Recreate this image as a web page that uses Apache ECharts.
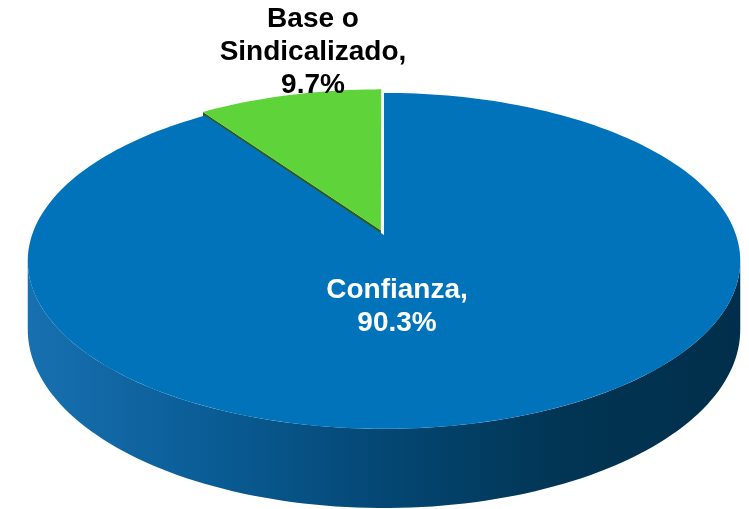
<!DOCTYPE html>
<html>
<head>
<meta charset="utf-8">
<script src="https://cdn.jsdelivr.net/npm/echarts@6/dist/echarts.min.js"></script>
<style>
html, body { margin: 0; padding: 0; background: #fff; }
#main { width: 749px; height: 509px; }
</style>
</head>
<body>
<div id="main"></div>
<script>
var categories = ['Confianza', 'Base o Sindicalizado'];
var values = [90.3, 9.7];
var labels = ['Confianza,\n90.3%', 'Base o\nSindicalizado,\n9.7%'];
var colors = ['#0073bb', '#5fd43a'];
var cutColors = ['#003a60', '#2f5a16'];

// pie geometry (tilted disc, simple perspective)
var CX = 384, CY = 235, RX = 352, RY = 164, A = 0.154, H = 67;
var EXPLODE = [0, 0.03];
var D2R = Math.PI / 180;
var DELTA = Math.asin(A) / D2R;

var total = values.reduce(function (s, v) { return s + v; }, 0);
var ranges = [];
(function () {
    var start = 90;
    for (var i = 0; i < values.length; i++) {
        var span = values[i] / total * 360;
        ranges.push([start - span, start]);
        start -= span;
    }
})();

function proj(u, v, dz) {
    var w = 1 + A * v;
    return [CX + RX * u / w, CY - RY * v / w + (dz || 0) / w];
}

function arcPts(du, dv, a0, a1, dz) {
    var pts = [];
    var n = Math.max(2, Math.ceil(Math.abs(a1 - a0) / 1.5));
    for (var k = 0; k <= n; k++) {
        var t = (a0 + (a1 - a0) * k / n) * D2R;
        pts.push(proj(du + Math.cos(t), dv + Math.sin(t), dz));
    }
    return pts;
}

var sideGradient = new echarts.graphic.LinearGradient(0, 0, 1, 0, [
    { offset: 0, color: '#1870b0' },
    { offset: 0.25, color: '#0a5d96' },
    { offset: 0.5, color: '#044774' },
    { offset: 0.75, color: '#013553' },
    { offset: 1, color: '#012f4b' }
]);

function renderItem(params, api) {
    var i = params.dataIndex;
    var r = ranges[i];
    var mid = (r[0] + r[1]) / 2 * D2R;
    var du = EXPLODE[i] * Math.cos(mid), dv = EXPLODE[i] * Math.sin(mid);
    var children = [];

    // outer side, visible front part
    for (var k = -2; k <= 1; k++) {
        var lo = Math.max(r[0], 180 + DELTA + 360 * k);
        var hi = Math.min(r[1], 360 - DELTA + 360 * k);
        if (hi > lo) {
            var top = arcPts(du, dv, lo, hi, 0);
            var bot = arcPts(du, dv, lo, hi, H).reverse();
            children.push({
                type: 'polygon', z2: 1,
                shape: { points: top.concat(bot) },
                style: { fill: i === 0 ? sideGradient : cutColors[i] }
            });
        }
    }

    // cut faces
    var edges = [[r[0], r[0] - 90], [r[1], r[1] + 90]];
    edges.forEach(function (e) {
        if (Math.sin(e[1] * D2R) >= 0) return;
        var t = e[0] * D2R;
        var c0 = proj(du, dv, 0), c1 = proj(du + Math.cos(t), dv + Math.sin(t), 0);
        var c2 = proj(du + Math.cos(t), dv + Math.sin(t), H), c3 = proj(du, dv, H);
        children.push({
            type: 'polygon', z2: 2,
            shape: { points: [c0, c1, c2, c3] },
            style: { fill: cutColors[i] }
        });
    });

    // top face
    var face = [proj(du, dv, 0)].concat(arcPts(du, dv, r[0], r[1], 0));
    children.push({
        type: 'polygon', z2: 10,
        shape: { points: face },
        style: { fill: colors[i] }
    });

    // label
    var lp = i === 0 ? [CX + 13, CY + 72] : [313, 52];
    children.push({
        type: 'text', z2: 20,
        style: {
            text: labels[i],
            x: lp[0], y: lp[1],
            align: 'center', verticalAlign: 'middle',
            fill: i === 0 ? '#ffffff' : '#000000',
            font: 'bold 28px "Liberation Sans", Arial, sans-serif',
            lineHeight: 33
        }
    });

    return { type: 'group', children: children };
}

var myChart = echarts.init(document.getElementById('main'));
var option = {
    animation: false,
    series: [{
        type: 'custom',
        coordinateSystem: 'none',
        renderItem: renderItem,
        data: values.map(function (v, i) { return { name: categories[i], value: v }; })
    }]
};
myChart.setOption(option);
</script>
</body>
</html>
